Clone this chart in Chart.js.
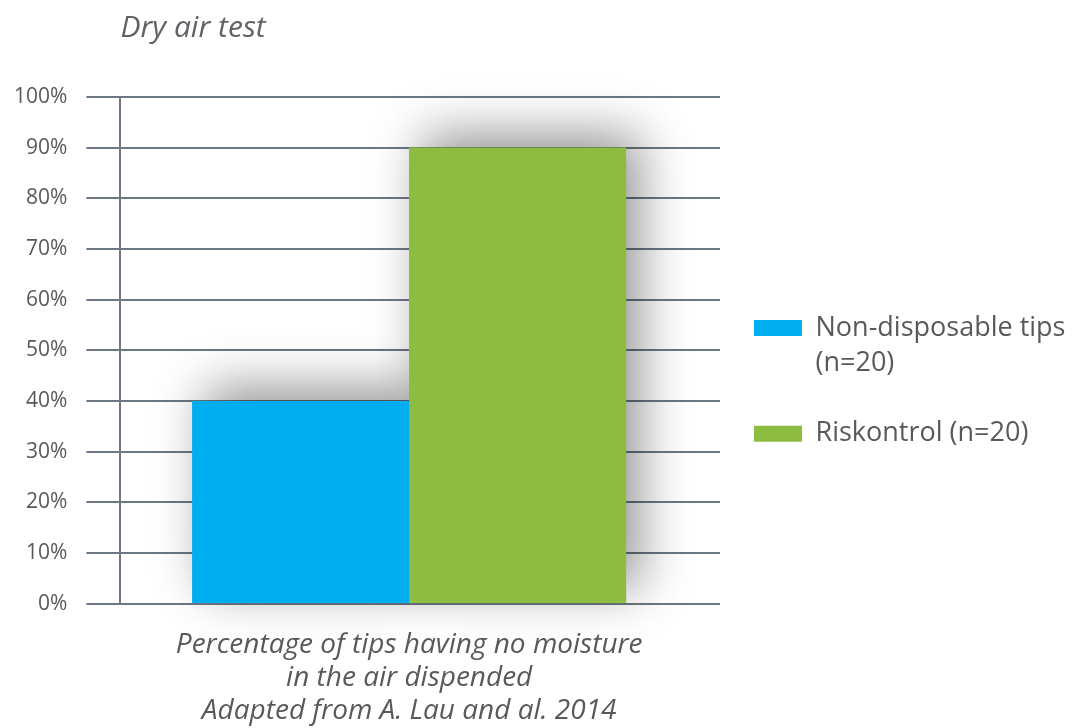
<!DOCTYPE html>
<html>
<head>
<meta charset="utf-8">
<script src="https://cdn.jsdelivr.net/npm/chart.js@4/dist/chart.umd.min.js"></script>
<style>
  html, body { margin: 0; padding: 0; background: #fff; }
  #wrap { width: 1078px; height: 728px; }
</style>
</head>
<body>
<div id="wrap"><canvas id="chart"></canvas></div>
<script>
const categories = [''];
const seriesNames = ['Non-disposable tips (n=20)', 'Riskontrol (n=20)'];
const legendLines = [['Non-disposable tips', '(n=20)'], ['Riskontrol (n=20)']];
const nonDisposable = [40];
const riskontrol = [90];
const yTicks = [0, 10, 20, 30, 40, 50, 60, 70, 80, 90, 100];
const caption = ['Percentage of tips having no moisture', 'in the air dispended', 'Adapted from A. Lau and al. 2014'];

const gridColor = '#6c7783';
const textColor = '#58595b';

// soft grey shadow behind the bars, painted before any bar so it never covers one
const barShadow = {
    id: 'barShadow',
    beforeDatasetsDraw(chart) {
        const ctx = chart.ctx;
        ctx.save();
        ctx.shadowColor = 'rgba(0, 0, 0, 0.42)';
        ctx.shadowBlur = 48;
        ctx.shadowOffsetX = 14;
        ctx.shadowOffsetY = -14;
        chart.data.datasets.forEach((ds, i) => {
            chart.getDatasetMeta(i).data.forEach(bar => {
                const { x, y, base, width } = bar.getProps(['x', 'y', 'base', 'width'], true);
                ctx.fillStyle = ds.backgroundColor;
                ctx.fillRect(x - width / 2, y, width, base - y);
            });
        });
        ctx.restore();
    }
};

const ctx = document.getElementById('chart').getContext('2d');
new Chart(ctx, {
    type: 'bar',
    data: {
        labels: categories,
        datasets: [{
            label: seriesNames[0],
            data: nonDisposable,
            backgroundColor: '#00adee',
            categoryPercentage: 0.751,
            barPercentage: 1
        }, {
            label: seriesNames[1],
            data: riskontrol,
            backgroundColor: '#8cbd40',
            categoryPercentage: 0.751,
            barPercentage: 1
        }]
    },
    options: {
        responsive: true,
        maintainAspectRatio: false,
        animation: false,
        layout: { padding: { left: -5, right: 5, top: 0, bottom: 1 } },
        plugins: {
            title: {
                display: true,
                text: 'Dry air test',
                align: 'start',
                fullSize: false,
                color: '#5f6266',
                font: { family: 'Open Sans', size: 30, style: 'italic', weight: 'normal' },
                padding: { top: 10, bottom: 51 }
            },
            legend: {
                position: 'right',
                maxWidth: 353,
                title: { display: true, text: '', padding: 0, font: { size: 30, lineHeight: 1.45 } },
                labels: {
                    boxWidth: 48,
                    boxHeight: 16,
                    padding: 34,
                    color: textColor,
                    font: { family: 'Open Sans', size: 27, lineHeight: 1.33 },
                    generateLabels(chart) {
                        return chart.data.datasets.map((ds, i) => ({
                            text: legendLines[i],
                            fillStyle: ds.backgroundColor,
                            strokeStyle: ds.backgroundColor,
                            lineWidth: 0,
                            fontColor: textColor,
                            datasetIndex: i
                        }));
                    }
                }
            },
            tooltip: { enabled: false }
        },
        scales: {
            x: {
                grid: { display: false, drawTicks: false },
                border: { display: false },
                ticks: { display: false },
                title: {
                    display: true,
                    text: caption,
                    color: textColor,
                    font: { family: 'Open Sans', size: 28, style: 'italic', lineHeight: 1.17 },
                    padding: { top: 25, bottom: 0 }
                }
            },
            y: {
                min: 0,
                max: 100,
                afterBuildTicks(scale) {
                    scale.ticks = yTicks.map(v => ({ value: v }));
                },
                ticks: {
                    padding: 19,
                    color: textColor,
                    font: { family: 'Open Sans', size: 21 },
                    callback: v => v + '%'
                },
                grid: { color: gridColor, lineWidth: 2, tickLength: 34 },
                border: { display: true, color: gridColor, width: 2 }
            },
            y2: {
                position: 'right',
                min: 0,
                max: 100,
                afterBuildTicks(scale) {
                    scale.ticks = yTicks.map(v => ({ value: v }));
                },
                ticks: { display: false },
                grid: { drawOnChartArea: false, color: gridColor, lineWidth: 2, tickLength: 22 },
                border: { display: false }
            }
        }
    },
    plugins: [barShadow]
});
</script>
</body>
</html>
